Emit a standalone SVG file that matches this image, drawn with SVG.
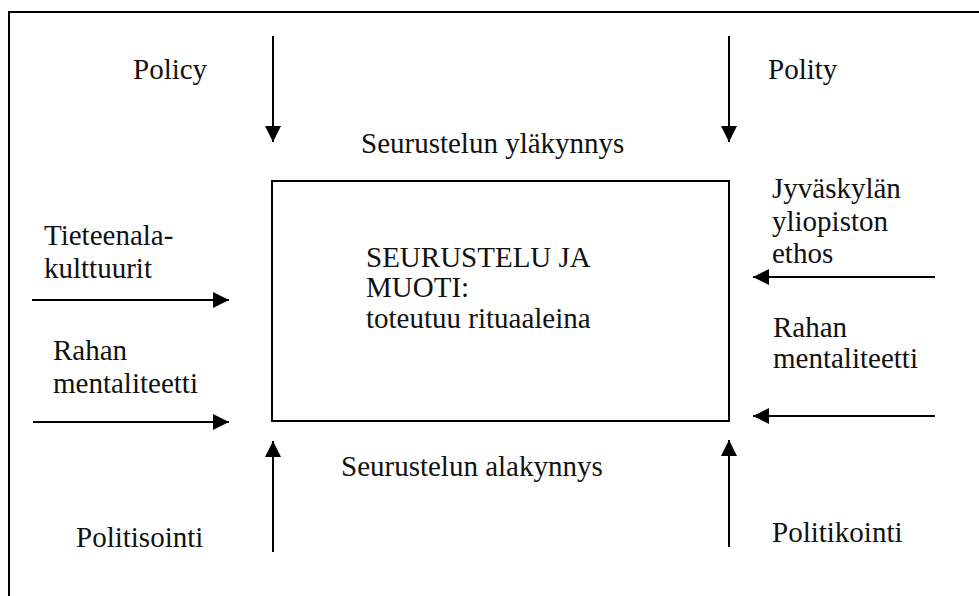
<svg xmlns="http://www.w3.org/2000/svg" width="979" height="596" viewBox="0 0 979 596">
<defs>
<marker id="ah" markerUnits="userSpaceOnUse" markerWidth="16" markerHeight="16" viewBox="0 0 16 16" refX="16" refY="8" orient="auto">
<path d="M0,0 L16,8 L0,16 Z" fill="#000"/>
</marker>
</defs>
<style>
text{font-family:"Liberation Serif","DejaVu Serif",serif;font-size:29px;fill:#111}
.ln{stroke:#000;stroke-width:2;fill:none}
.arr{stroke:#000;stroke-width:2;fill:none;marker-end:url(#ah)}
</style>
<rect width="979" height="596" fill="#fff"/>
<g id="frame">
<path class="ln" d="M9,596 L9,12 L979,12"/>
</g>
<g id="center">
<rect class="ln" x="272" y="181" width="457" height="240"/>
<text x="366" y="267">SEURUSTELU JA</text>
<text x="366" y="297">MUOTI:</text>
<text x="366" y="328">toteutuu rituaaleina</text>
</g>
<g id="policy"><text x="133" y="79">Policy</text></g>
<g id="polity"><text x="768" y="79">Polity</text></g>
<g id="ylakynnys"><text x="361" y="153">Seurustelun yläkynnys</text></g>
<g id="alakynnys"><text x="341" y="476">Seurustelun alakynnys</text></g>
<g id="tieteenala"><text x="44" y="245">Tieteenala-</text><text x="44" y="278">kulttuurit</text></g>
<g id="rahan-left"><text x="53" y="360">Rahan</text><text x="53" y="393">mentaliteetti</text></g>
<g id="jyvaskyla"><text x="772" y="198">Jyväskylän</text><text x="772" y="231">yliopiston</text><text x="772" y="263">ethos</text></g>
<g id="rahan-right"><text x="773" y="337">Rahan</text><text x="773" y="368">mentaliteetti</text></g>
<g id="politisointi"><text x="76" y="547">Politisointi</text></g>
<g id="politikointi"><text x="772" y="542">Politikointi</text></g>
<g id="connectors">
<line class="arr" x1="273" y1="36" x2="273" y2="142"/>
<line class="arr" x1="729" y1="36" x2="729" y2="142"/>
<line class="arr" x1="273" y1="552" x2="273" y2="441"/>
<line class="arr" x1="729" y1="547" x2="729" y2="440"/>
<line class="arr" x1="32" y1="300" x2="229" y2="300"/>
<line class="arr" x1="33" y1="422" x2="229" y2="422"/>
<line class="arr" x1="935" y1="277" x2="753" y2="277"/>
<line class="arr" x1="935" y1="416" x2="753" y2="416"/>
</g>
</svg>
